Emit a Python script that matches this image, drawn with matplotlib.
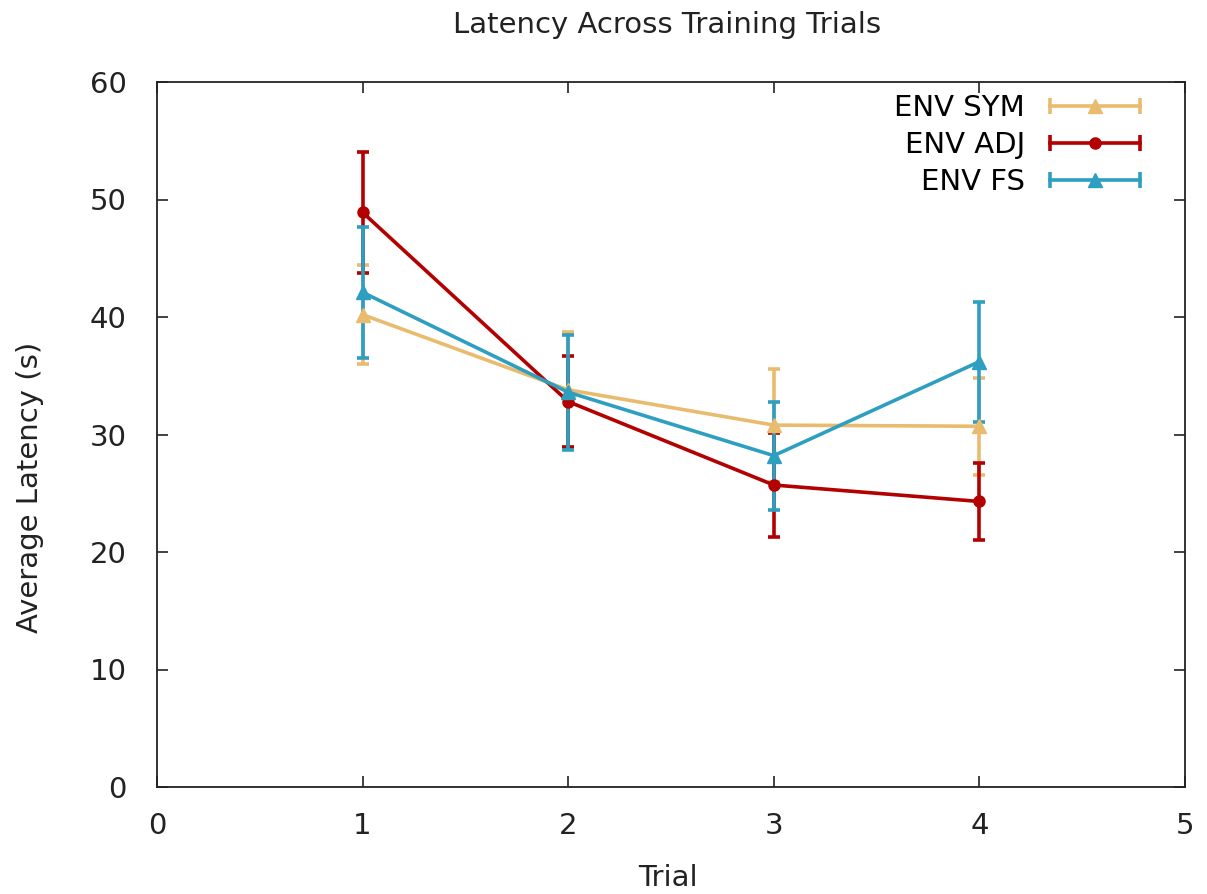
import matplotlib
matplotlib.use("Agg")
import matplotlib.pyplot as plt
from matplotlib.lines import Line2D
from matplotlib.legend_handler import HandlerLine2D

# data
trials = [1, 2, 3, 4]
series_names = ["ENV SYM", "ENV ADJ", "ENV FS"]
sym_mean = [40.2, 33.8, 30.8, 30.7]
sym_err = [4.2, 4.9, 4.8, 4.15]
adj_mean = [48.9, 32.8, 25.7, 24.3]
adj_err = [5.15, 3.85, 4.4, 3.25]
fs_mean = [42.1, 33.6, 28.2, 36.2]
fs_err = [5.6, 4.9, 4.6, 5.1]

colors = ["#e9bb6e", "#b30000", "#2e9fc0"]
markers = ["^", "o", "^"]
msizes = [10, 8, 10]

W, H = 1207, 894
fig = plt.figure(figsize=(W / 100, H / 100), dpi=100)
ax = fig.add_axes([157 / W, (H - 787) / H, 1028 / W, 705 / H])

lw = 2.6
fs = 21
txt = "#222222"
handles = []
hmap = {}
for name, mean, err, c, m, ms in zip(series_names, [sym_mean, adj_mean, fs_mean],
                                     [sym_err, adj_err, fs_err], colors, markers, msizes):
    ax.errorbar(trials, mean, yerr=err, color=c, marker=m, ms=ms, lw=lw,
                elinewidth=lw, capsize=4.5, capthick=lw)
    cap = Line2D([], [], color=c, lw=lw, marker="|", ms=11, mew=lw)
    mk = Line2D([], [], color=c, lw=0, marker=m, ms=ms)
    hmap[cap] = HandlerLine2D(numpoints=2, marker_pad=0)
    hmap[mk] = HandlerLine2D(numpoints=1)
    handles.append((cap, mk))

ax.set_xlim(0, 5)
ax.set_ylim(0, 60)
ax.set_xticks(range(0, 6))
ax.set_yticks(range(0, 61, 10))
ax.tick_params(direction="in", top=True, right=True, length=8, width=1.2,
               labelsize=fs, colors=txt)
ax.tick_params(axis="y", pad=22)
ax.tick_params(axis="x", pad=18)
for sp in ax.spines.values():
    sp.set_linewidth(1.3)
    sp.set_color(txt)

ax.legend(handles, series_names, handler_map=hmap, loc="upper right",
          bbox_to_anchor=(0.968, 0.999), frameon=False, markerfirst=False,
          fontsize=fs, handlelength=3.1, handletextpad=0.85, labelspacing=0.3,
          borderaxespad=0)

fig.text(667 / W, 1 - 25 / H, "Latency Across Training Trials", ha="center",
         va="center", fontsize=fs, color=txt)
fig.text(30 / W, 1 - 487 / H, "Average Latency (s)", rotation=90, ha="center",
         va="center", fontsize=fs, color=txt)
fig.text(668 / W, 1 - 878 / H, "Trial", ha="center", va="center", fontsize=fs,
         color=txt)

fig.savefig("out.png", dpi=100)
